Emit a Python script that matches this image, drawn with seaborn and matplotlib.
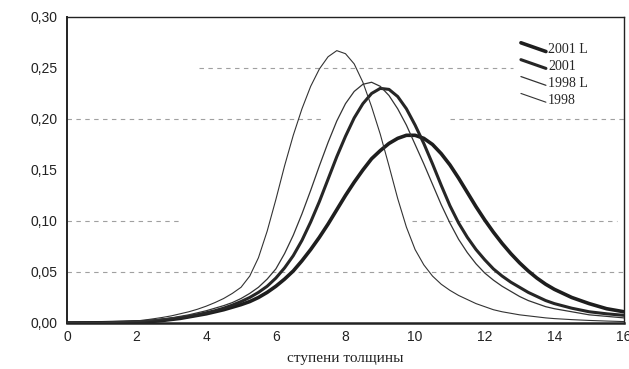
import matplotlib
matplotlib.use("Agg")
import matplotlib.pyplot as plt
from matplotlib.lines import Line2D
from matplotlib.legend_handler import HandlerLine2D
import seaborn as sns
import pandas as pd

# ------------------- data -------------------
x_vals = [0, 1,
          2, 2.25, 2.5, 2.75, 3, 3.25, 3.5, 3.75, 4, 4.25, 4.5, 4.75,
          5, 5.25, 5.5, 5.75, 6, 6.25, 6.5, 6.75, 7, 7.25, 7.5, 7.75,
          8, 8.25, 8.5, 8.75, 9, 9.25, 9.5, 9.75, 10, 10.25, 10.5, 10.75,
          11, 11.25, 11.5, 11.75, 12, 12.25, 12.5, 12.75, 13, 13.25, 13.5, 13.75,
          14, 14.5, 15, 15.5, 16]

y_1998 = [0, 0.0004,
          0.002, 0.003, 0.0042, 0.0055, 0.007, 0.009, 0.011, 0.0135,
          0.0165, 0.020, 0.024, 0.029, 0.035, 0.046, 0.064, 0.090,
          0.121, 0.154, 0.184, 0.210, 0.232, 0.249, 0.261, 0.267,
          0.264, 0.254, 0.236, 0.212, 0.185, 0.154, 0.122, 0.094,
          0.072, 0.057, 0.046, 0.038, 0.032, 0.027, 0.023, 0.019,
          0.016, 0.013, 0.011, 0.0095, 0.008, 0.007, 0.006, 0.005,
          0.0043, 0.0033, 0.0025, 0.0019, 0.0014]

y_1998L = [0, 0.0003,
           0.0015, 0.002, 0.003, 0.004, 0.005, 0.0065, 0.008, 0.010,
           0.012, 0.0145, 0.017, 0.020, 0.024, 0.029, 0.035, 0.043,
           0.053, 0.068, 0.086, 0.107, 0.130, 0.154, 0.177, 0.198,
           0.215, 0.227, 0.234, 0.236, 0.232, 0.223, 0.210, 0.194,
           0.175, 0.156, 0.136, 0.116, 0.098, 0.082, 0.069, 0.058,
           0.049, 0.042, 0.036, 0.031, 0.026, 0.022, 0.019, 0.016,
           0.014, 0.011, 0.008, 0.0065, 0.005]

y_2001 = [0, 0.0002,
          0.001, 0.0015, 0.002, 0.003, 0.004, 0.005, 0.0065, 0.008,
          0.010, 0.012, 0.0145, 0.0175, 0.021, 0.025, 0.030, 0.036,
          0.044, 0.054, 0.066, 0.081, 0.099, 0.119, 0.141, 0.163,
          0.183, 0.201, 0.215, 0.225, 0.230, 0.229, 0.222, 0.210,
          0.194, 0.176, 0.156, 0.135, 0.115, 0.098, 0.084, 0.072,
          0.062, 0.053, 0.046, 0.040, 0.035, 0.030, 0.026, 0.022,
          0.019, 0.0145, 0.011, 0.009, 0.0075]

y_2001L = [0, 0.0002,
           0.001, 0.0013, 0.0018, 0.0025, 0.0035, 0.0045, 0.006, 0.0075,
           0.009, 0.011, 0.013, 0.0155, 0.018, 0.021, 0.025, 0.030,
           0.036, 0.043, 0.051, 0.061, 0.072, 0.084, 0.097, 0.111,
           0.125, 0.138, 0.150, 0.161, 0.169, 0.176, 0.181, 0.184,
           0.184, 0.181, 0.175, 0.166, 0.155, 0.142, 0.128, 0.114,
           0.101, 0.089, 0.078, 0.068, 0.059, 0.051, 0.044, 0.038,
           0.033, 0.025, 0.019, 0.014, 0.011]

series_names = ["2001 L", "2001", "1998 L", "1998"]
series_values = [y_2001L, y_2001, y_1998L, y_1998]

x_ticks = [0, 2, 4, 6, 8, 10, 12, 14, 16]
y_ticks = [0.00, 0.05, 0.10, 0.15, 0.20, 0.25, 0.30]
y_tick_labels = ["0,00", "0,05", "0,10", "0,15", "0,20", "0,25", "0,30"]
x_label = "ступени толщины"

# faded dashed grid, as it survives on the scan
grid_segments = {0.05: [(0, 16)], 0.10: [(0, 3.3), (9.9, 15.8)],
                 0.20: [(0, 7.3), (11.0, 16)], 0.25: [(3.8, 12.8)]}

line_widths = {"2001 L": 2.6, "2001": 2.2, "1998 L": 0.9, "1998": 0.8}
line_colors = {"2001 L": "#1e1e1e", "2001": "#262626", "1998 L": "#333333", "1998": "#333333"}


class SlantHandler(HandlerLine2D):
    """legend key drawn as a short falling diagonal, like the scan"""
    def create_artists(self, legend, orig_handle, xdescent, ydescent,
                       width, height, fontsize, trans):
        line = Line2D([-xdescent, -xdescent + width],
                      [-ydescent + height * 1.05, -ydescent + height * 0.15])
        self.update_prop(line, orig_handle, legend)
        line.set_transform(trans)
        return [line]


# ------------------- plot -------------------
sns.set_theme(style="white")
plt.rcParams['font.family'] = ['Liberation Sans', 'DejaVu Sans']

fig = plt.figure(figsize=(6.29, 3.69), dpi=100)
ax = fig.add_axes([0.1065, 0.1247, 0.8855, 0.8293])

for y, segs in grid_segments.items():
    for x0, x1 in segs:
        ax.plot([x0, x1], [y, y], color="#a0a0a0", lw=0.8, ls=(0, (4, 4)), zorder=1)

df = pd.DataFrame({"x": x_vals * len(series_names),
                   "y": sum(series_values, []),
                   "series": [n for n in series_names for _ in x_vals]})

handles = []
for name in series_names:
    sub = df[df["series"] == name]
    sns.lineplot(data=sub, x="x", y="y", ax=ax, color=line_colors[name],
                 linewidth=line_widths[name], estimator=None, sort=False,
                 legend=False, zorder=3, solid_joinstyle="round")
    handles.append(Line2D([], [], color=line_colors[name], lw=line_widths[name]))

ax.set_xlim(0, 16)
ax.set_ylim(0, 0.30)
ax.set_xticks(x_ticks)
ax.set_xticklabels([str(t) for t in x_ticks])
ax.set_yticks(y_ticks)
ax.set_yticklabels(y_tick_labels)
ax.tick_params(axis="both", direction="in", length=3, width=0.8, colors="#222222",
               labelsize=10, labelcolor="#222222")
ax.tick_params(axis="y", pad=7)
ax.tick_params(axis="x", pad=5)
ax.set_xlabel(x_label, family=["Liberation Serif", "DejaVu Serif"], fontsize=11,
              color="#222222", labelpad=6)
ax.set_ylabel("")

for side, w in {"left": 1.4, "bottom": 1.8, "top": 1.0, "right": 1.0}.items():
    ax.spines[side].set_visible(True)
    ax.spines[side].set_linewidth(w)
    ax.spines[side].set_color("#222222")

ax.legend(handles, series_names, handler_map={Line2D: SlantHandler()},
          loc="upper left", bbox_to_anchor=(0.815, 0.915), frameon=False,
          borderpad=0, borderaxespad=0, handlelength=1.8, handletextpad=0.15,
          labelspacing=0.28, prop={"family": "Liberation Serif", "size": 10})

plt.savefig("out.png", dpi=100)
